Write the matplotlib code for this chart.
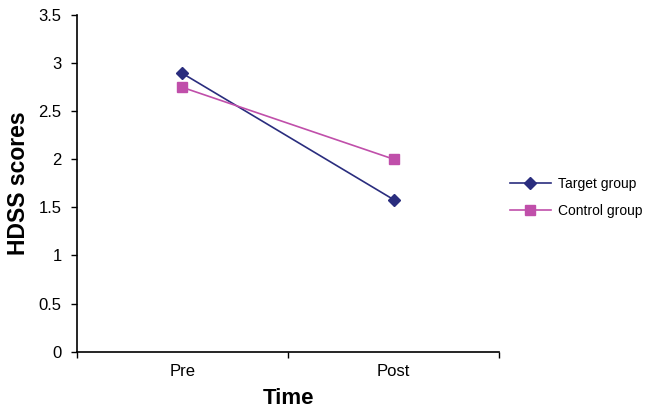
import matplotlib
matplotlib.use("Agg")
import matplotlib.pyplot as plt
from matplotlib.ticker import FixedLocator, NullFormatter

plt.rcParams['font.family'] = ['Liberation Sans', 'DejaVu Sans']

categories = ["Pre", "Post"]
target_group = [2.89, 1.58]
control_group = [2.745, 2.0]
yticks = [0, 0.5, 1, 1.5, 2, 2.5, 3, 3.5]
ytick_labels = ["0", "0.5", "1", "1.5", "2", "2.5", "3", "3.5"]

fig = plt.figure(figsize=(6.49, 4.13), dpi=100)
ax = fig.add_axes([0.1186, 0.1484, 0.769 - 0.1186, 0.9644 - 0.1484])

x = list(range(len(categories)))
ax.plot(x, target_group, color="#2A2D7E", marker="D", markersize=6.5, linewidth=1.2,
        label="Target group")
ax.plot(x, control_group, color="#C04FAA", marker="s", markersize=7, linewidth=1.2,
        label="Control group")

ax.set_xlim(-0.5, len(categories) - 0.5)
ax.set_ylim(0, 3.5)
ax.set_yticks(yticks)
ax.set_yticklabels(ytick_labels, fontsize=12)

ax.xaxis.set_major_locator(FixedLocator([i - 0.5 for i in range(len(categories) + 1)]))
ax.xaxis.set_major_formatter(NullFormatter())
ax.xaxis.set_minor_locator(FixedLocator(x))
ax.set_xticklabels(categories, minor=True, fontsize=12)
ax.tick_params(axis="x", which="minor", length=0, pad=9)
ax.tick_params(axis="x", which="major", length=4, direction="out", width=1)
ax.tick_params(axis="y", length=4, direction="out", width=1, pad=7)

for s in ["top", "right"]:
    ax.spines[s].set_visible(False)
for s in ["left", "bottom"]:
    ax.spines[s].set_linewidth(1.2)

ax.set_xlabel("Time", fontsize=16, fontweight="bold", labelpad=6)
ax.set_ylabel("HDSS scores", fontsize=16.5, fontweight="bold", labelpad=6)

fig.legend(*ax.get_legend_handles_labels(), loc="center left",
           bbox_to_anchor=(510 / 649, (413 - 197.5) / 413), frameon=False, fontsize=10,
           handlelength=2.95, handletextpad=0.5, labelspacing=0.95,
           borderpad=0, borderaxespad=0)

fig.savefig("out.png", dpi=100)
